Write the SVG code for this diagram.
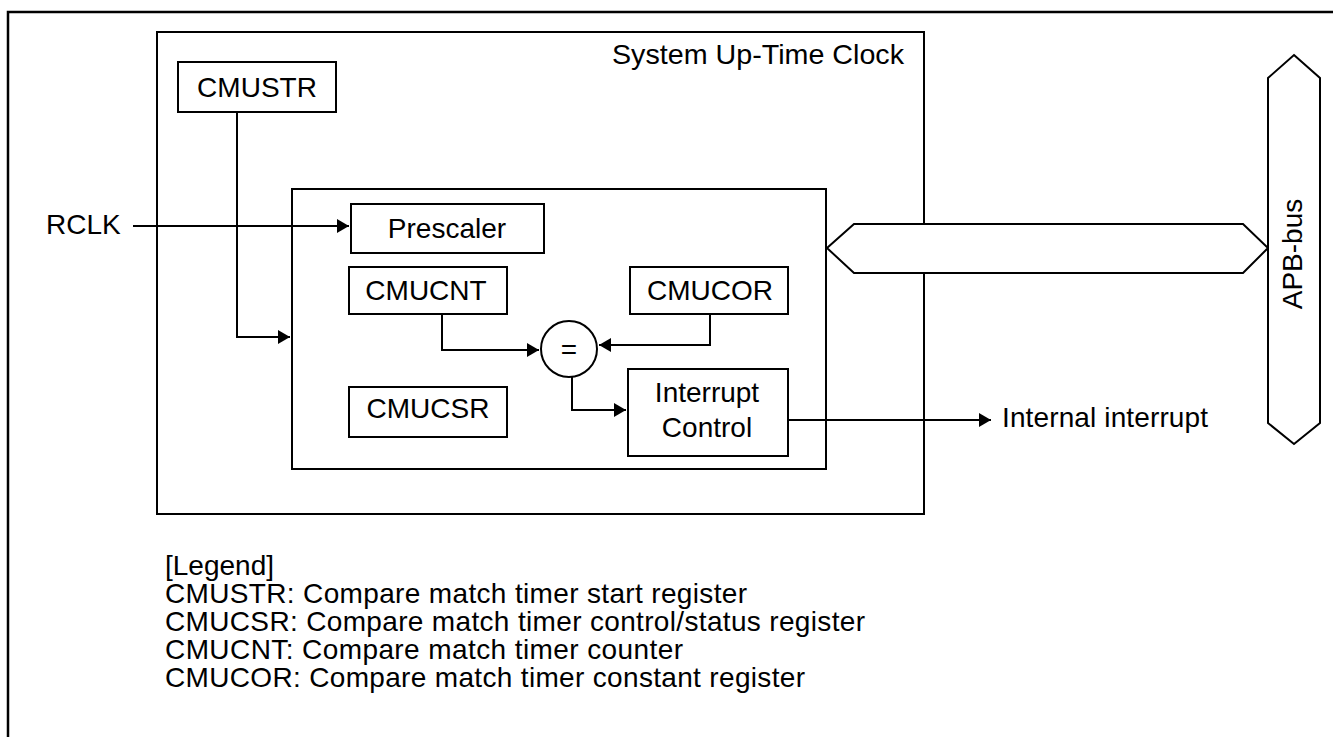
<svg xmlns="http://www.w3.org/2000/svg" width="1333" height="737" viewBox="0 0 1333 737">
<defs>
<style>
text{font-family:"Liberation Sans",Arial,sans-serif;font-size:28px;fill:#000}
.box{fill:#fff;stroke:#000;stroke-width:2}
.ln{fill:none;stroke:#000;stroke-width:2}
.mid{text-anchor:middle}
</style>
<marker id="ah" markerWidth="13" markerHeight="14" refX="12" refY="7" orient="auto" markerUnits="userSpaceOnUse">
<path d="M0,0 L12,7 L0,14 z" fill="#000"/>
</marker>
</defs>
<rect x="8" y="12" width="1340" height="740" fill="#fff" stroke="#000" stroke-width="2.5"/>
<g id="system">
<rect class="box" x="157" y="32" width="767" height="482"/>
<text x="612" y="64" textLength="292" lengthAdjust="spacingAndGlyphs">System Up-Time Clock</text>
</g>
<g id="inner"><rect class="box" x="292" y="189" width="534" height="280"/></g>
<g id="cmustr"><rect class="box" x="178" y="62" width="158" height="50"/><text class="mid" x="257" y="97">CMUSTR</text></g>
<g id="prescaler"><rect class="box" x="351" y="204" width="193" height="49"/><text class="mid" x="447" y="238">Prescaler</text></g>
<g id="cmucnt"><rect class="box" x="349" y="267" width="158" height="47"/><text class="mid" x="426" y="300">CMUCNT</text></g>
<g id="cmucor"><rect class="box" x="630" y="267" width="158" height="47"/><text class="mid" x="710" y="300">CMUCOR</text></g>
<g id="cmucsr"><rect class="box" x="349" y="387" width="158" height="50"/><text class="mid" x="428" y="418">CMUCSR</text></g>
<g id="intctrl"><rect class="box" x="628" y="369" width="160" height="87"/><text class="mid" x="707" y="402">Interrupt</text><text class="mid" x="707" y="437">Control</text></g>
<g id="compare"><circle class="box" cx="569" cy="349" r="28"/><text class="mid" x="569" y="359">=</text></g>
<g id="rclk"><text x="46" y="234">RCLK</text></g>
<g id="intout"><text x="1002" y="427" textLength="206" lengthAdjust="spacing">Internal interrupt</text></g>
<g id="connectors">
<path class="ln" d="M133,226 H349" marker-end="url(#ah)"/>
<path class="ln" d="M237,112 V337 H290" marker-end="url(#ah)"/>
<path class="ln" d="M442,314 V350 H539" marker-end="url(#ah)"/>
<path class="ln" d="M710,314 V345 H599" marker-end="url(#ah)"/>
<path class="ln" d="M572,377 V410 H626" marker-end="url(#ah)"/>
<path class="ln" d="M788,420 H991" marker-end="url(#ah)"/>
</g>
<g id="bus">
<polygon class="box" points="827,248 854,224 1243,224 1268,248 1243,273 854,273"/>
</g>
<g id="apb">
<polygon class="box" points="1294,55 1320,78 1320,423 1294,444 1268,423 1268,78"/>
<text class="mid" transform="translate(1302,254) rotate(-90)">APB-bus</text>
</g>
<g id="legend">
<text x="165" y="575">[Legend]</text>
<text x="165" y="603" textLength="582" lengthAdjust="spacing">CMUSTR: Compare match timer start register</text>
<text x="165" y="631" textLength="700" lengthAdjust="spacing">CMUCSR: Compare match timer control/status register</text>
<text x="165" y="659" textLength="518" lengthAdjust="spacing">CMUCNT: Compare match timer counter</text>
<text x="165" y="687" textLength="640" lengthAdjust="spacing">CMUCOR: Compare match timer constant register</text>
</g>
</svg>
